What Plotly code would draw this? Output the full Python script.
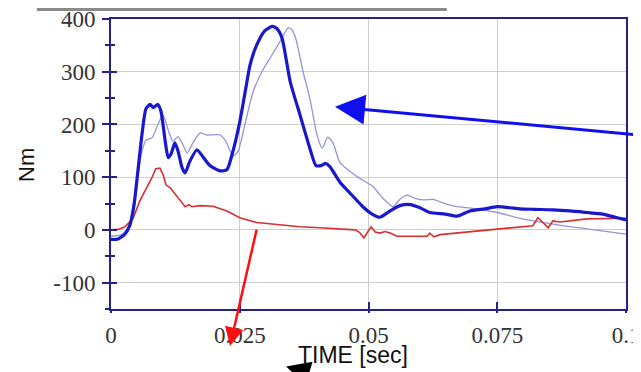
import plotly.graph_objects as go

# ---- data ----
t_thick = [0, 0.001, 0.00175, 0.0027, 0.0037, 0.0045, 0.0052, 0.006, 0.0068, 0.0076, 0.0082, 0.0091,
           0.0097, 0.0105, 0.0111, 0.0117, 0.0124, 0.013, 0.0138, 0.0144, 0.0153, 0.0167, 0.0179,
           0.0192, 0.0212, 0.0225, 0.0237, 0.025, 0.0262, 0.027, 0.0283, 0.0299, 0.0313, 0.0322,
           0.0332, 0.0348, 0.0367, 0.0386, 0.0398, 0.0408, 0.0417, 0.0425, 0.0445, 0.0464, 0.0489,
           0.0507, 0.0522, 0.0542, 0.0561, 0.0581, 0.06, 0.0619, 0.0649, 0.0672, 0.0697, 0.0726,
           0.075, 0.0775, 0.0794, 0.0823, 0.0858, 0.0891, 0.0924, 0.0955, 0.0979, 0.1]
v_thick = [-18, -18, -15, -8, 10, 50, 110, 180, 230, 238, 232, 238,
           225, 170, 137, 145, 165, 150, 118, 108, 130, 152, 138,
           122, 112, 114, 150, 205, 270, 313, 351, 378, 386, 382,
           364, 281, 218, 155, 122, 122, 126, 120, 90, 70, 44,
           30, 24, 36, 46, 48, 42, 33, 30, 26, 36, 40,
           44, 42, 40, 39, 38, 36, 33, 30, 24, 19]

t_thin = [0, 0.00175, 0.0031, 0.0043, 0.005, 0.0058, 0.0068, 0.008, 0.0089, 0.0101, 0.0111, 0.012,
          0.013, 0.0138, 0.0148, 0.0159, 0.0173, 0.0186, 0.0212, 0.0223, 0.0237, 0.0247, 0.026,
          0.0276, 0.0293, 0.0309, 0.0328, 0.0344, 0.0351, 0.0359, 0.0373, 0.0386, 0.04, 0.041,
          0.0421, 0.0431, 0.0445, 0.0478, 0.0509, 0.0528, 0.0548, 0.0561, 0.0575, 0.059, 0.0606,
          0.0625, 0.0649, 0.0672, 0.0703, 0.075, 0.0794, 0.0858, 0.0924, 0.1]
v_thin = [-12, -10, 0, 25, 80, 140, 170, 175, 195, 218, 190, 168,
          177, 165, 146, 165, 184, 180, 180, 168, 140, 150, 200,
          262, 300, 326, 357, 383, 380, 362, 300, 250, 180, 155,
          176, 165, 127, 101, 82, 60, 44, 58, 66, 60, 57,
          58, 50, 44, 41, 33, 22, 11, 2, -8]

t_red = [0, 0.0014, 0.0027, 0.0043, 0.0056, 0.007, 0.008, 0.0087, 0.0095, 0.0101, 0.0107, 0.0115,
         0.0128, 0.0144, 0.0151, 0.0157, 0.0173, 0.0198, 0.0225, 0.025, 0.0283, 0.0328, 0.0367,
         0.0406, 0.0445, 0.0474, 0.0483, 0.0491, 0.0499, 0.0505, 0.0513, 0.0522, 0.0532, 0.0542,
         0.0555, 0.0581, 0.0614, 0.0619, 0.0627, 0.0639, 0.0683, 0.0736, 0.0775, 0.0819, 0.0829,
         0.0837, 0.0849, 0.0858, 0.0872, 0.0924, 0.0969, 0.1]
v_red = [0, 1, 6, 22, 55, 80, 100, 116, 117, 105, 85, 80,
         63, 44, 48, 44, 46, 45, 36, 23, 14, 10, 6,
         4, 2, 0, -5, -15, -3, 6, -4, -6, -3, -6,
         -12, -12, -12, -6, -13, -9, -5, 0, 4, 8, 23,
         15, 4, 17, 15, 21, 22, 22]

x_ticks = [0, 0.025, 0.05, 0.075, 0.1]
x_ticktext = ["0", "0.025", "0.05", "0.075", "0.1"]
y_ticks = [-100, 0, 100, 200, 300, 400]
y_ticktext = ["-100", "0", "100", "200", "300", "400"]

X_RANGE = [0, 0.1]
Y_RANGE = [-150, 400]

NAVY = "#22228a"
TICKFONT = dict(family="Liberation Serif", size=23, color="#333333")
SANS = "Liberation Sans"

fig = go.Figure()
fig.add_trace(go.Scatter(x=t_thin, y=v_thin, mode="lines",
                         line=dict(color="#9494d8", width=1.3, shape="spline", smoothing=0.6),
                         showlegend=False, hoverinfo="skip"))
fig.add_trace(go.Scatter(x=t_red, y=v_red, mode="lines",
                         line=dict(color="#d83030", width=1.6),
                         showlegend=False, hoverinfo="skip"))
fig.add_trace(go.Scatter(x=t_thick, y=v_thick, mode="lines",
                         line=dict(color="#1818cc", width=3.2, shape="spline", smoothing=0.6),
                         showlegend=False, hoverinfo="skip"))
# invisible trace on overlay axes (for crossing ticks)
fig.add_trace(go.Scatter(x=[0], y=[0], mode="markers", marker=dict(opacity=0),
                         xaxis="x2", yaxis="y2", showlegend=False, hoverinfo="skip"))

fig.update_layout(
    width=641, height=372,
    margin=dict(l=103, r=23, t=11, b=71, autoexpand=False),
    paper_bgcolor="white", plot_bgcolor="white",
    xaxis=dict(range=X_RANGE, tickvals=x_ticks, ticktext=x_ticktext, ticks="inside",
               ticklen=7, tickwidth=2, tickcolor=NAVY, showline=True, linecolor=NAVY,
               linewidth=2, mirror=True, showgrid=True, gridcolor="#cfcfcf", gridwidth=1,
               zeroline=False, tickfont=TICKFONT, ticklabelstandoff=4, automargin=False,
               ticklabeloverflow="allow"),
    yaxis=dict(range=Y_RANGE, tickvals=y_ticks, ticktext=y_ticktext, ticks="outside", ticklen=7,
               tickwidth=2, tickcolor=NAVY, showline=True, linecolor=NAVY, linewidth=2, mirror=True,
               showgrid=True, gridcolor="#cfcfcf", gridwidth=1, zeroline=False,
               tickfont=TICKFONT, ticklabelstandoff=2, automargin=False,
               ticklabeloverflow="allow",
               minor=dict(dtick=50, tick0=0, ticks="outside", ticklen=4, tickwidth=2,
                          tickcolor=NAVY, showgrid=False)),
    xaxis2=dict(range=X_RANGE, tickvals=x_ticks, overlaying="x", anchor="y2", ticks="outside",
                ticklen=3, tickwidth=2, tickcolor=NAVY, showticklabels=False, showgrid=False,
                showline=False, zeroline=False, automargin=False),
    yaxis2=dict(range=Y_RANGE, tickvals=y_ticks, overlaying="y", anchor="x2", ticks="inside",
                ticklen=6, tickwidth=2, tickcolor=NAVY, showticklabels=False, showgrid=False,
                showline=False, zeroline=False, automargin=False,
                minor=dict(dtick=50, tick0=0, ticks="inside", ticklen=4, tickwidth=2,
                           tickcolor=NAVY, showgrid=False)),
    shapes=[dict(type="line", xref="paper", yref="paper", x0=-0.144, x1=0.652, y0=1.033, y1=1.033,
                 line=dict(color="#8a8a8a", width=3))],
    annotations=[
        dict(text="Nm", xref="paper", yref="paper", x=-0.163, y=0.497, textangle=-90,
             showarrow=False, font=dict(family=SANS, size=22, color="#111111"),
             xanchor="center", yanchor="middle"),
        dict(text="TIME [sec]", xref="paper", yref="paper", x=0.47, y=-0.159, showarrow=False,
             font=dict(family=SANS, size=23, color="#111111"), xanchor="center", yanchor="middle"),
        dict(text="", xref="paper", yref="paper", x=0.435, y=0.697, showarrow=True,
             ax=315, ay=29, arrowhead=2, arrowsize=2, arrowwidth=3, arrowcolor="#1010ee",
             standoff=0),
        dict(text="", xref="paper", yref="paper", x=0.231, y=-0.128, showarrow=True,
             ax=27, ay=-118, arrowhead=2, arrowsize=1.5, arrowwidth=2.5, arrowcolor="#ff1010",
             standoff=0),
        dict(text="", xref="paper", yref="paper", x=0.340, y=-0.198, showarrow=True,
             ax=45, ay=22, arrowhead=2, arrowsize=1.6, arrowwidth=3, arrowcolor="#000000",
             standoff=0),
    ],
)

fig.write_html("out.html")
